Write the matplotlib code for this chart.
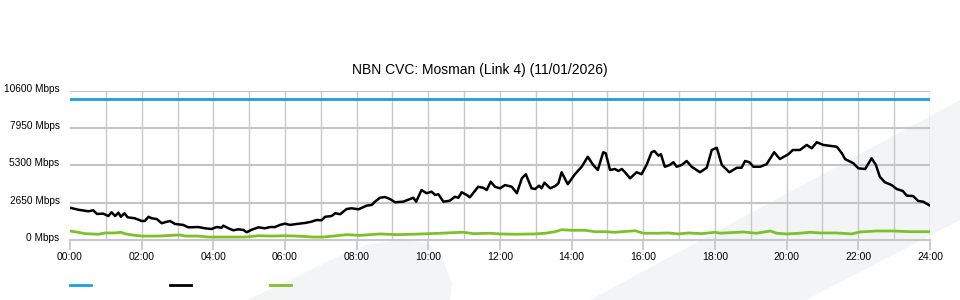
import matplotlib
matplotlib.use("Agg")
import matplotlib.pyplot as plt
from matplotlib.patches import Polygon
from matplotlib.lines import Line2D

plt.rcParams['font.family'] = ['Liberation Sans', 'DejaVu Sans']

title = "NBN CVC: Mosman (Link 4) (11/01/2026)"
y_ticks = [0, 2650, 5300, 7950, 10600]
y_tick_labels = ["0 Mbps", "2650 Mbps", "5300 Mbps", "7950 Mbps", "10600 Mbps"]
x_ticks = list(range(0, 25, 2))
x_tick_labels = ["%02d:00" % h for h in x_ticks]

capacity_hours = [0, 24]
capacity_values = [10000, 10000]

black_hours = [0.00, 0.23, 0.51, 0.65, 0.75, 0.93, 1.07, 1.16, 1.26, 1.35, 1.42, 1.52, 1.61, 1.81,
               2.00, 2.09, 2.19, 2.28, 2.42, 2.56, 2.65, 2.79, 2.93, 3.16, 3.30, 3.58, 3.77, 3.95,
               4.09, 4.23, 4.28, 4.42, 4.56, 4.70, 4.84, 4.93, 5.07, 5.26, 5.44, 5.58, 5.72, 5.86,
               6.00, 6.14, 6.33, 6.56, 6.74, 6.88, 7.02, 7.12, 7.30, 7.40, 7.54, 7.72, 7.86, 8.05,
               8.28, 8.42, 8.51, 8.65, 8.79, 8.93, 9.07, 9.30, 9.49, 9.58, 9.66, 9.81, 9.95, 10.09,
               10.19, 10.28, 10.42, 10.60, 10.74, 10.84, 10.93, 11.07, 11.16, 11.39, 11.53, 11.63,
               11.74, 11.86, 12.00, 12.14, 12.33, 12.47, 12.61, 12.72, 12.88, 12.98, 13.09, 13.16,
               13.24, 13.40, 13.54, 13.63, 13.72, 13.89, 14.09, 14.28, 14.45, 14.60, 14.73, 14.88,
               14.95, 15.07, 15.21, 15.30, 15.40, 15.49, 15.63, 15.81, 15.95, 16.09, 16.23, 16.31,
               16.42, 16.49, 16.60, 16.74, 16.84, 16.93, 17.07, 17.21, 17.35, 17.58, 17.77, 17.91,
               18.05, 18.19, 18.40, 18.61, 18.74, 18.84, 18.96, 19.07, 19.26, 19.44, 19.65, 19.81,
               20.05, 20.17, 20.37, 20.56, 20.70, 20.84, 21.02, 21.40, 21.54, 21.63, 21.86, 22.00,
               22.19, 22.37, 22.49, 22.60, 22.74, 22.93, 23.07, 23.24, 23.35, 23.53, 23.67, 23.81,
               24.00]
black_values = [2290, 2150, 2040, 2110, 1850, 1870, 1700, 1970, 1700, 1940, 1650, 1900, 1610, 1540,
                1350, 1350, 1650, 1540, 1490, 1190, 1260, 1350, 1140, 1070, 900, 920, 830, 780,
                920, 870, 1020, 830, 690, 760, 710, 550, 730, 900, 830, 920, 920, 1070,
                1160, 1070, 1140, 1210, 1300, 1420, 1400, 1650, 1700, 1900, 1830, 2200, 2250, 2180,
                2440, 2490, 2720, 3000, 3050, 2910, 2680, 2720, 2910, 3000, 2720, 3550, 3320, 3430,
                3200, 3250, 2720, 2790, 3070, 3000, 3390, 3200, 3030, 3780, 3710, 3550,
                4140, 3780, 3670, 3900, 3780, 3320, 4380, 4670, 3670, 3620, 3860, 3670,
                4070, 3670, 3830, 4030, 4810, 3960, 4670, 5200, 5910, 5330, 4970, 6230,
                6160, 4970, 5040, 4900, 5040, 4810, 4380, 4810, 4670, 5330, 6230, 6320,
                5990, 6090, 5200, 5330, 5520, 5200, 5330, 5610, 5200, 4810, 5130, 6390,
                6550, 5330, 4810, 5130, 5130, 5610, 5520, 5200, 5200, 5380, 6230, 5750,
                6090, 6390, 6390, 6750, 6510, 6940, 6750, 6620, 6160, 5750, 5450, 5090,
                5040, 5800, 5330, 4490, 4100, 3900, 3620, 3480, 3150, 3120, 2770, 2720,
                2440]

green_hours = [0.00, 0.23, 0.42, 0.60, 0.79, 0.98, 1.26, 1.42, 1.53, 1.72, 2.00, 2.47, 3.07, 3.21,
               3.58, 3.86, 4.33, 4.88, 5.26, 5.63, 6.00, 6.33, 6.79, 7.07, 7.35, 7.72, 8.09, 8.65,
               9.12, 9.58, 10.05, 10.51, 10.98, 11.26, 11.72, 12.00, 12.42, 12.98, 13.26, 13.54,
               13.72, 14.00, 14.37, 14.65, 14.93, 15.21, 15.40, 15.58, 15.77, 16.00, 16.42, 16.70,
               16.98, 17.26, 17.63, 18.00, 18.14, 18.42, 18.79, 19.16, 19.54, 19.72, 20.00, 20.37,
               20.65, 20.93, 21.40, 21.81, 22.05, 22.51, 22.98, 23.44, 24.00]
green_values = [640, 550, 450, 430, 410, 500, 500, 550, 450, 360, 280, 280, 360, 280,
                280, 210, 210, 210, 300, 280, 300, 280, 210, 210, 280, 380, 330, 430,
                380, 410, 450, 500, 550, 450, 480, 430, 410, 430, 480, 590,
                730, 690, 690, 590, 590, 550, 590, 620, 660, 480, 480, 500,
                430, 500, 450, 550, 480, 520, 570, 480, 640, 480, 430, 480,
                550, 500, 500, 430, 570, 640, 640, 590, 590]

blue_color = "#1a9fdf"
black_color = "#000000"
green_color = "#7cc02a"

fig = plt.figure(figsize=(9.6, 3.0), dpi=100)
W, H = 960.0, 300.0

def fpt(x, y):
    return (x / W, 1 - y / H)

wm_color = "#f3f4f6"
band = Polygon([fpt(590, 300), fpt(960, 100), fpt(960, 220), fpt(806, 300)],
               closed=True, transform=fig.transFigure, facecolor=wm_color,
               edgecolor="none", zorder=0)
blob = Polygon([fpt(248, 300), fpt(300, 275), fpt(345, 253), fpt(370, 244), fpt(400, 240),
                fpt(428, 243), fpt(442, 258), fpt(452, 283), fpt(450, 300)],
               closed=True, transform=fig.transFigure, facecolor=wm_color,
               edgecolor="none", zorder=0)
fig.patches.extend([band, blob])

ax = fig.add_axes([70 / W, 1 - 240 / H, 860 / W, (240 - 90.7) / H])
ax.set_facecolor("none")
ax.set_zorder(1)

ax.set_xlim(0, 24)
ax.set_ylim(0, 10600)

for h in range(1, 25):
    ax.axvline(h, color="#c8c8c8", lw=1.0, zorder=1)
for v in y_ticks[1:]:
    ax.axhline(v, color="#c4c4c4", lw=1.5, zorder=1)

ax.plot(capacity_hours, capacity_values, color=blue_color, lw=2.0, zorder=3)
ax.plot(green_hours, green_values, color=green_color, lw=2.0, zorder=3)
ax.plot(black_hours, black_values, color=black_color, lw=1.8, zorder=4)

for s in ["left", "right", "top"]:
    ax.spines[s].set_visible(False)
ax.spines["bottom"].set_color("#c8c8c8")
ax.spines["bottom"].set_linewidth(1.5)

ax.set_xticks(x_ticks)
ax.set_xticklabels(x_tick_labels, fontsize=7.5, color="#000000")
ax.tick_params(axis="x", length=7.5, width=1.2, color="#c4c4c4", pad=1.5)
ax.set_yticks(y_ticks)
ax.set_yticklabels(y_tick_labels, fontsize=7.3, color="#000000")
ax.tick_params(axis="y", length=0, pad=7.5)
for lbl in ax.get_yticklabels():
    lbl.set_va("center")
    lbl.set_transform(lbl.get_transform() + matplotlib.transforms.ScaledTranslation(0, 2 / 100, fig.dpi_scale_trans))

fig.text(480 / W, 1 - 70 / H, title, ha="center", va="center", fontsize=10, color="#000000")

for x0, c in [(70, blue_color), (170, black_color), (270, green_color)]:
    fig.add_artist(Line2D([x0 / W, (x0 + 21) / W], [1 - 285 / H, 1 - 285 / H],
                          transform=fig.transFigure, color=c, lw=2.0))

fig.savefig("out.png", dpi=100)
